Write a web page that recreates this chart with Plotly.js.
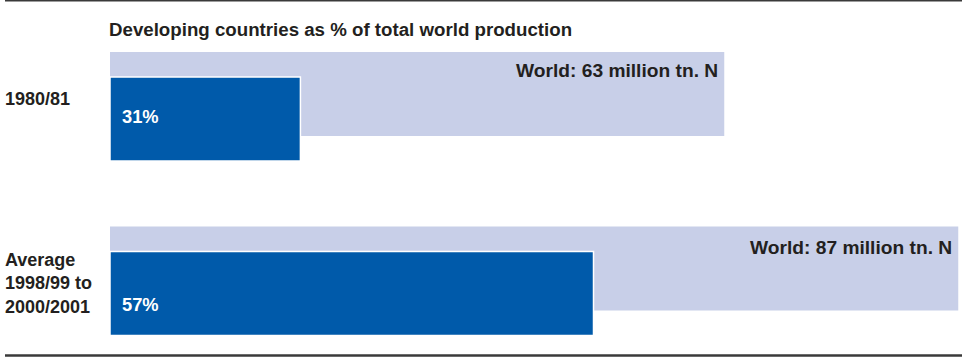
<!DOCTYPE html>
<html>
<head>
<meta charset="utf-8">
<script src="https://cdn.plot.ly/plotly-3.0.1.min.js"></script>
<style>html,body{margin:0;padding:0;background:#fff;}#chart{width:962px;height:361px;}</style>
</head>
<body>
<div id="chart"></div>
<script>
// ---- data ----
const categories = ['1980/81', 'Average<br>1998/99 to<br>2000/2001'];
const worldTotal = [63, 87];          // million tn. N
const developingShare = [31, 57];     // % of world production
const worldLabels = ['World: 63 million tn. N', 'World: 87 million tn. N'];
const shareLabels = ['31%', '57%'];
const chartTitle = 'Developing countries as % of total world production';

const developing = worldTotal.map((w, i) => w * developingShare[i] / 100);

const W = 962, H = 361;
const py = px => 1 - px / H;
const font = {family: 'Liberation Sans, Arial, sans-serif', size: 18, color: '#231f20', weight: 'bold'};

const traces = [
  {
    type: 'bar', orientation: 'h', y: categories, x: worldTotal,
    marker: {color: '#c8cfe8', line: {width: 0}},
    width: 0.481, offset: -0.3123, hoverinfo: 'skip'
  },
  {
    type: 'bar', orientation: 'h', y: categories, x: developing,
    marker: {color: '#005aaa', line: {color: '#ffffff', width: 1.5}},
    width: 0.481, offset: -0.169, hoverinfo: 'skip'
  }
];

const labelY = [99.5, 283];
const worldY = [70, 247];
const shareY = [116, 304];

const annotations = [
  {xref: 'paper', yref: 'paper', x: 110 / W, xshift: -3, y: py(29), xanchor: 'left', yanchor: 'middle',
   text: chartTitle, showarrow: false, font: Object.assign({}, font, {size: 18.7})}
];
categories.forEach((c, i) => {
  annotations.push({xref: 'paper', yref: 'paper', x: 5 / W, xshift: -2, y: py(labelY[i]), xanchor: 'left', yanchor: 'middle',
    align: 'left', text: c, showarrow: false, font: font});
  annotations.push({xref: 'x', yref: 'paper', x: worldTotal[i], xshift: -4, y: py(worldY[i]), xanchor: 'right', yanchor: 'middle',
    text: worldLabels[i], showarrow: false, font: Object.assign({}, font, {size: 19.2})});
  annotations.push({xref: 'x', yref: 'paper', x: 0, xshift: 10, y: py(shareY[i]), xanchor: 'left', yanchor: 'middle',
    text: shareLabels[i], showarrow: false, font: Object.assign({}, font, {color: '#ffffff', size: 18.3})});
});

const s = 9.75;
const layout = {
  width: W, height: H,
  margin: {l: 0, r: 0, t: 0, b: 0, pad: 0},
  paper_bgcolor: '#ffffff', plot_bgcolor: '#ffffff',
  showlegend: false, barmode: 'overlay',
  xaxis: {range: [-110 / s, (W - 110) / s], visible: false, fixedrange: true},
  yaxis: {type: 'category', range: [(H - 106.5) / 174.5, -106.5 / 174.5], visible: false, fixedrange: true},
  annotations: annotations,
  shapes: [
    {type: 'line', xref: 'paper', yref: 'paper', x0: 5 / W, x1: 1, y0: py(0.7), y1: py(0.7), line: {color: '#3a3a3a', width: 1.5}},
    {type: 'line', xref: 'paper', yref: 'paper', x0: 5 / W, x1: 1, y0: py(355.5), y1: py(355.5), line: {color: '#3a3a3a', width: 2.5}}
  ]
};

Plotly.newPlot('chart', traces, layout, {displayModeBar: false, staticPlot: true});
</script>
</body>
</html>
